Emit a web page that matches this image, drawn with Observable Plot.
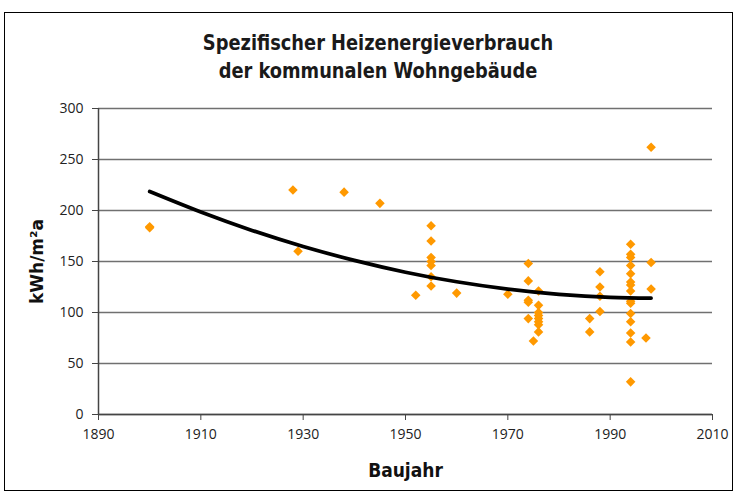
<!DOCTYPE html>
<html><head><meta charset="utf-8">
<script src="https://cdn.jsdelivr.net/npm/d3@7"></script>
<script src="https://cdn.jsdelivr.net/npm/@observablehq/plot@0.6"></script>
<style>
body{margin:0;background:#fff;}
#wrap{position:relative;width:738px;height:493px;overflow:hidden;background:#fff;}
#border{position:absolute;left:4px;top:12px;width:729px;height:479px;border:1.5px solid #000;box-sizing:border-box;}
#title{position:absolute;top:29px;left:9px;width:738px;text-align:center;font-family:"Liberation Sans Narrow","DejaVu Sans Condensed","Open Sans",sans-serif;font-weight:bold;font-size:22px;line-height:28px;color:#1a1a1a;transform:scaleX(0.9);transform-origin:369px 0;}
#chart{position:absolute;top:90px;left:0;}
</style>
</head><body>
<div id="wrap">
<div id="border"></div>
<div id="title">Spezifischer Heizenergieverbrauch<br>der kommunalen Wohngebäude</div>
<div id="chart"></div>
</div>
<script>
// Building year (Baujahr) of each building
const years = [1900, 1900, 1928, 1929, 1938, 1945, 1952,
  1955, 1955, 1955, 1955, 1955, 1955, 1955, 1960, 1970,
  1974, 1974, 1974, 1974, 1974, 1975,
  1976, 1976, 1976, 1976, 1976, 1976, 1976, 1976,
  1986, 1986, 1988, 1988, 1988, 1988,
  1994, 1994, 1994, 1994, 1994, 1994, 1994, 1994, 1994, 1994, 1994, 1994, 1994, 1994, 1994,
  1997, 1998, 1998, 1998];
// Specific heating energy consumption, kWh/m²a
const values = [184, 183, 220, 160, 218, 207, 117,
  185, 170, 154, 150, 146, 135, 126, 119, 118,
  148, 131, 112, 110, 94, 72,
  121, 107, 100, 97, 94, 91, 88, 81,
  94, 81, 140, 125, 116, 101,
  167, 157, 154, 146, 138, 130, 127, 121, 111, 109, 99, 91, 80, 71, 32,
  75, 262, 149, 123];
// Trend line
const trendYears = [1900, 1910, 1920, 1930, 1940, 1950, 1960, 1970, 1980, 1990, 1998];
const trendValues = [218.6, 198.5, 180.5, 164.7, 151.1, 139.5, 130.1, 122.9, 117.8, 114.8, 114.0];
// Tick labels
const xTicks = [1890, 1910, 1930, 1950, 1970, 1990, 2010];
const yTicks = [0, 50, 100, 150, 200, 250, 300];

const points = years.map((y, i) => ({year: y, value: values[i]}));
const trend = trendYears.map((y, i) => ({year: y, value: trendValues[i]}));

const tickFont = "'Open Sans', 'DejaVu Sans', sans-serif";
const chart = Plot.plot({
  width: 738, height: 403,
  marginTop: 18, marginBottom: 79, marginLeft: 98, marginRight: 26,
  style: {fontFamily: tickFont, fontSize: "14px", color: "#222", background: "transparent", overflow: "visible"},
  x: {domain: [1890, 2010], label: null},
  y: {domain: [0, 300], label: null},
  marks: [
    Plot.gridY(yTicks, {stroke: "#707070", strokeOpacity: 1, strokeWidth: 1.3}),
    Plot.axisX(xTicks, {tickFormat: d => String(d), tickSize: 6, tickPadding: 9, stroke: "#444", label: null}),
    Plot.axisY(yTicks, {tickSize: 6, tickPadding: 9, stroke: "#444", label: null}),
    Plot.ruleY([0], {stroke: "#444", strokeWidth: 1.5}),
    Plot.ruleX([1890], {stroke: "#444", strokeWidth: 1.5}),
    Plot.dot(points, {x: "year", y: "value", symbol: "diamond2", r: 4.3, fill: "#FF9900", stroke: null}),
    Plot.line(trend, {x: "year", y: "value", curve: "natural", stroke: "#000", strokeWidth: 3.7}),
    Plot.text(["Baujahr"], {frameAnchor: "bottom", dy: 56, lineAnchor: "middle", textAnchor: "middle", fontWeight: "bold", fontSize: 19, fill: "#111",
      fontFamily: "'Liberation Sans Narrow','DejaVu Sans Condensed','Open Sans',sans-serif"}),
    Plot.text(["kWh/m²a"], {frameAnchor: "left", dx: -61, rotate: -90, lineAnchor: "middle", textAnchor: "middle", fontWeight: "bold", fontSize: 17, fill: "#111",
      fontFamily: "'DejaVu Sans', sans-serif"})
  ]
});
document.getElementById("chart").appendChild(chart);
</script>
</body></html>
